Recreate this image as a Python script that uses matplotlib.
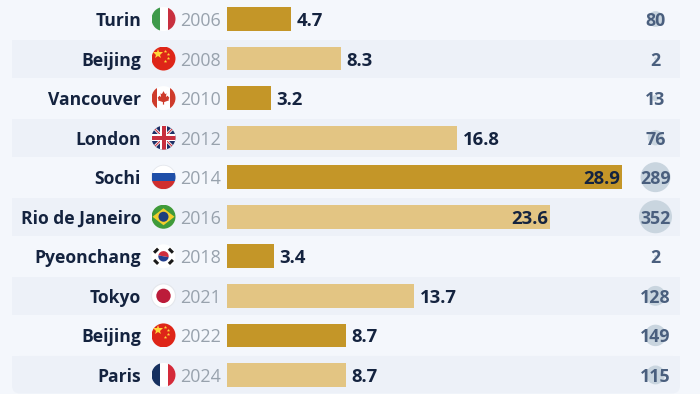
import matplotlib
matplotlib.use("Agg")
import matplotlib.pyplot as plt
from matplotlib.patches import Circle, Rectangle, FancyBboxPatch, Polygon, Wedge

cities = ["Turin", "Beijing", "Vancouver", "London", "Sochi", "Rio de Janeiro",
          "Pyeonchang", "Tokyo", "Beijing", "Paris"]
years = ["2006", "2008", "2010", "2012", "2014", "2016", "2018", "2021", "2022", "2024"]
costs = [4.7, 8.3, 3.2, 16.8, 28.9, 23.6, 3.4, 13.7, 8.7, 8.7]
counts = [80, 2, 13, 76, 289, 352, 2, 128, 149, 115]
seasons = ["w", "s", "w", "s", "w", "s", "w", "s", "w", "s"]
flags = ["it", "cn", "ca", "gb", "ru", "br", "kr", "jp", "cn", "fr"]

BG, BAND = "#F4F7FC", "#EDF1F8"
DARK, LIGHT = "#C49628", "#E3C583"
NAVY, GREY, SLATE = "#14233F", "#98A2AD", "#4A5F7E"
SANS = "Open Sans"
W, H = 700, 394
X0, PXU = 227, 13.68      # zero of value scale, pixels per unit
Y0, ROW = 19.0, 39.55     # first row centre, row pitch

fig = plt.figure(figsize=(7, 3.94), dpi=100, facecolor=BG)

# Pixel-space overlay for furniture
pa = fig.add_axes([0, 0, 1, 1], zorder=1)
pa.set_xlim(0, W); pa.set_ylim(H, 0); pa.axis("off")

# Value axes for bars
ax = fig.add_axes([0, 0, 1, 1], zorder=2)
ax.set_xlim(-X0 / PXU, (W - X0) / PXU)
ax.set_ylim((H - Y0) / ROW, -Y0 / ROW)
ax.axis("off"); ax.patch.set_alpha(0)

# Top pixel overlay for flags, bubbles and labels
ta = fig.add_axes([0, 0, 1, 1], zorder=3)
ta.set_xlim(0, W); ta.set_ylim(H, 0); ta.axis("off"); ta.patch.set_alpha(0)

for i in range(1, len(cities), 2):
    yc = Y0 + i * ROW
    if i == len(cities) - 1:
        pa.add_patch(FancyBboxPatch((12, yc - 19), 668, 37.5, boxstyle="round,pad=0,rounding_size=8",
                                    fc=BAND, ec="none"))
        pa.add_patch(Rectangle((12, yc - 19), 668, 12, fc=BAND, ec="none"))
    else:
        pa.add_patch(Rectangle((12, yc - 19), 668, 38.5, fc=BAND, ec="none"))

ax.barh(range(len(costs)), costs, height=0.6,
        color=[DARK if s == "w" else LIGHT for s in seasons], linewidth=0)


def clipped(artist, clip):
    ta.add_patch(artist)
    artist.set_clip_path(clip)


def rect(x, y, w, h, c, clip, z=4):
    clipped(Rectangle((x, y), w, h, fc=c, ec="none", zorder=z), clip)


def draw_flag(code, cx, cy, r=12):
    clip = Circle((cx, cy), r, fc="white", ec="none", zorder=3)
    ta.add_patch(clip)
    L, T, D = cx - r, cy - r, 2 * r
    if code == "it":
        rect(L, T, D / 3, D, "#3E9A4B", clip); rect(L + 2 * D / 3, T, D / 3, D, "#C8303F", clip)
    elif code == "fr":
        rect(L, T, D / 3, D, "#16305F", clip); rect(L + 2 * D / 3, T, D / 3, D, "#D42A3A", clip)
    elif code == "ru":
        clip.set_edgecolor("#E4E7EC"); clip.set_linewidth(0.6)
        rect(L, T + D / 3, D, D / 3, "#1F4FA8", clip); rect(L, T + 2 * D / 3, D, D / 3, "#CF2E2E", clip)
    elif code == "cn":
        rect(L, T, D, D, "#DE2518", clip)
        ta.plot(cx - 6, cy - 5, marker="*", ms=7.5, color="#FFD83A", mew=0, zorder=5)
        for dx, dy in [(1, -8), (4, -5), (4, -1), (1, 2)]:
            ta.plot(cx + dx, cy + dy, marker="*", ms=2.6, color="#FFD83A", mew=0, zorder=5)
    elif code == "ca":
        rect(L, T, D * 0.24, D, "#CE3B2B", clip); rect(L + D * 0.76, T, D * 0.24, D, "#CE3B2B", clip)
        leaf = [(0, -7), (1.6, -4), (3, -4.8), (2.4, -1), (4, -2.4), (5.8, -0.4), (5, 1.4),
                (5.6, 2.2), (0.6, 4), (0.6, 6.5), (-0.6, 6.5), (-0.6, 4), (-5.6, 2.2), (-5, 1.4),
                (-5.8, -0.4), (-4, -2.4), (-2.4, -1), (-3, -4.8), (-1.6, -4)]
        ta.add_patch(Polygon([(cx + a, cy + b) for a, b in leaf], fc="#CE3B2B", ec="none", zorder=5))
    elif code == "gb":
        rect(L, T, D, D, "#1E2F66", clip)
        for s in (1, -1):
            clipped(Polygon([(cx - s * r - 2, cy - r), (cx - s * r + 2, cy - r),
                             (cx + s * r + 2, cy + r), (cx + s * r - 2, cy + r)],
                            fc="white", ec="none", zorder=4), clip)
            clipped(Polygon([(cx - s * r - .8, cy - r), (cx - s * r + .8, cy - r),
                             (cx + s * r + .8, cy + r), (cx + s * r - .8, cy + r)],
                            fc="#C8303F", ec="none", zorder=5), clip)
        rect(cx - 3.5, T, 7, D, "white", clip, 6); rect(L, cy - 3.5, D, 7, "white", clip, 6)
        rect(cx - 2, T, 4, D, "#C8303F", clip, 7); rect(L, cy - 2, D, 4, "#C8303F", clip, 7)
    elif code == "br":
        rect(L, T, D, D, "#3F9A3A", clip)
        clipped(Polygon([(cx - r + 1, cy), (cx, cy - 8.5), (cx + r - 1, cy), (cx, cy + 8.5)],
                        fc="#F2CE2C", ec="none", zorder=5), clip)
        ta.add_patch(Circle((cx, cy), 5, fc="#1F3E7D", ec="none", zorder=6))
    elif code == "kr":
        ta.add_patch(Wedge((cx, cy), 5.2, 190, 370, fc="#CF2E3E", ec="none", zorder=5))
        ta.add_patch(Wedge((cx, cy), 5.2, 10, 190, fc="#25408F", ec="none", zorder=5))
        for dx, dy, sgn in [(-7.4, -5.6, -1), (7.4, -5.6, 1), (-7.4, 5.6, 1), (7.4, 5.6, -1)]:
            ta.plot([cx + dx - 2, cx + dx + 2], [cy + dy - 2 * sgn, cy + dy + 2 * sgn],
                    color="#1A1A1A", lw=2.2, solid_capstyle="butt", zorder=5)
    elif code == "jp":
        clip.set_edgecolor("#E4E7EC"); clip.set_linewidth(0.8)
        ta.add_patch(Circle((cx, cy), 7.2, fc="#BC1C3A", ec="none", zorder=5))


for i, (city, yr, cost, cnt, code) in enumerate(zip(cities, years, costs, counts, flags)):
    yc = Y0 + i * ROW
    ta.text(141, yc, city, ha="right", va="center_baseline", fontfamily=SANS, fontweight="bold",
            fontsize=12.6, color=NAVY, zorder=8)
    draw_flag(code, 163.5, yc)
    ta.text(221, yc, yr, ha="right", va="center_baseline", fontfamily=SANS, fontsize=12.9,
            color=GREY, zorder=8)

    if cost > 20:
        ax.text(cost - 0.15, i, f"{cost}", ha="right", va="center_baseline", fontfamily=SANS,
                fontweight="bold", fontsize=13.3, color=NAVY)
    else:
        ax.text(cost + 0.42, i, f"{cost}", ha="left", va="center_baseline", fontfamily=SANS,
                fontweight="bold", fontsize=13.3, color=NAVY)

    ta.add_patch(Circle((655.5, yc), 0.88 * cnt ** 0.5, fc="#C9D5DF", ec="none", zorder=7))
    ta.text(655.5, yc, str(cnt), ha="center", va="center_baseline", fontfamily=SANS,
            fontweight="bold", fontsize=12.8, color=SLATE, zorder=8)

fig.savefig("out.png", dpi=100, facecolor=BG)
